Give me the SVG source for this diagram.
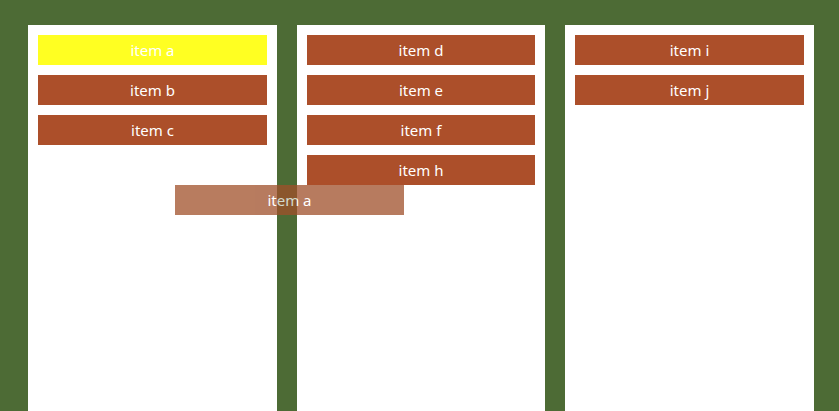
<svg xmlns="http://www.w3.org/2000/svg" width="839" height="411" viewBox="0 0 839 411">
<style>
.col{fill:#ffffff}
.item{fill:#ac4f2a}
.t{font-family:"Noto Sans","Open Sans",sans-serif;font-size:15px;fill:#ffffff;text-anchor:middle}
</style>
<rect x="0" y="0" width="839" height="411" fill="#4d6b35"/>
<g id="column1"><rect class="col" x="28" y="25" width="249" height="386"/></g>
<g id="column2"><rect class="col" x="297" y="25" width="248" height="386"/></g>
<g id="column3"><rect class="col" x="565" y="25" width="249" height="386"/></g>
<g id="item-a"><rect x="38" y="35" width="229" height="30" fill="#ffff22"/><text class="t" x="152.5" y="55.5">item a</text></g>
<g id="item-b"><rect class="item" x="38" y="75" width="229" height="30"/><text class="t" x="152.5" y="95.5">item b</text></g>
<g id="item-c"><rect class="item" x="38" y="115" width="229" height="30"/><text class="t" x="152.5" y="135.5">item c</text></g>
<g id="item-d"><rect class="item" x="307" y="35" width="228" height="30"/><text class="t" x="421" y="55.5">item d</text></g>
<g id="item-e"><rect class="item" x="307" y="75" width="228" height="30"/><text class="t" x="421" y="95.5">item e</text></g>
<g id="item-f"><rect class="item" x="307" y="115" width="228" height="30"/><text class="t" x="421" y="135.5">item f</text></g>
<g id="item-h"><rect class="item" x="307" y="155" width="228" height="30"/><text class="t" x="421" y="175.5">item h</text></g>
<g id="item-i"><rect class="item" x="575" y="35" width="229" height="30"/><text class="t" x="689.5" y="55.5">item i</text></g>
<g id="item-j"><rect class="item" x="575" y="75" width="229" height="30"/><text class="t" x="689.5" y="95.5">item j</text></g>
<g id="drag-item-a" opacity="0.75"><rect x="175" y="185" width="229" height="30" fill="#a0502a"/><text class="t" x="289.5" y="205.5">item a</text></g>
<g id="connectors"/>
</svg>
